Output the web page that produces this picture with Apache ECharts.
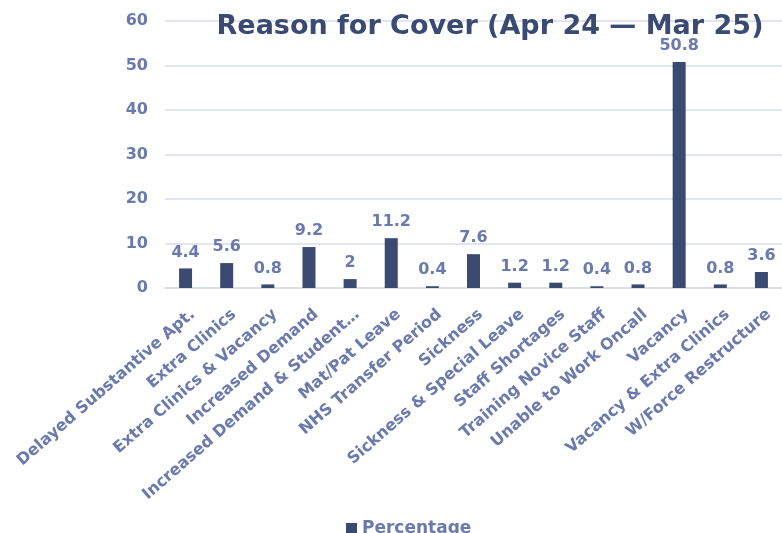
<!DOCTYPE html>
<html>
<head>
<meta charset="utf-8">
<script src="https://cdn.jsdelivr.net/npm/echarts@6/dist/echarts.min.js"></script>
<style>
  html, body { margin: 0; padding: 0; background: #fff; }
  #chart { width: 782px; height: 533px; }
</style>
</head>
<body>
<div id="chart"></div>
<script>
// Reasons for cover, percentage share
const categories = [
  'Delayed Substantive Apt.', 'Extra Clinics', 'Extra Clinics & Vacancy',
  'Increased Demand', 'Increased Demand & Student…', 'Mat/Pat Leave',
  'NHS Transfer Period', 'Sickness', 'Sickness & Special Leave',
  'Staff Shortages', 'Training Novice Staff', 'Unable to Work Oncall',
  'Vacancy', 'Vacancy & Extra Clinics', 'W/Force Restructure'
];
const percentage = [4.4, 5.6, 0.8, 9.2, 2, 11.2, 0.4, 7.6, 1.2, 1.2, 0.4, 0.8, 50.8, 0.8, 3.6];
const yTicks = { min: 0, max: 60, interval: 10 };

const labelColor = '#6a79ae';
const barColor = '#3b4a72';
const font = '"DejaVu Sans", "Liberation Sans", sans-serif';

const chart = echarts.init(document.getElementById('chart'));
chart.setOption({
  animation: false,
  title: {
    text: 'Reason for Cover (Apr 24 \u2014 Mar 25)',
    left: 485, top: 8, textAlign: 'center',
    textStyle: { fontFamily: font, fontSize: 27, fontWeight: 'bold', color: '#3a4a73' }
  },
  legend: {
    data: ['Percentage'],
    left: 341, top: 515,
    icon: 'rect', itemWidth: 11, itemHeight: 11, itemGap: 5,
    textStyle: { fontFamily: font, fontSize: 17, fontWeight: 'bold', color: labelColor }
  },
  grid: { left: 165, top: 21, width: 624, height: 267, containLabel: false },
  xAxis: {
    type: 'category',
    data: categories,
    axisTick: { show: false },
    axisLine: { lineStyle: { color: '#d9dcea', width: 1.5 } },
    axisLabel: {
      rotate: 41, interval: 0, margin: 16,
      verticalAlign: 'top', padding: [3, 0, 0, 0],
      fontFamily: font, fontSize: 16, fontWeight: 'bold', color: labelColor
    }
  },
  yAxis: {
    type: 'value',
    min: yTicks.min, max: yTicks.max, interval: yTicks.interval,
    axisLine: { show: false }, axisTick: { show: false },
    axisLabel: { margin: 17, fontFamily: font, fontSize: 16, fontWeight: 'bold', color: labelColor },
    splitLine: { lineStyle: { color: '#d9dcea', width: 1.5 } }
  },
  series: [{
    name: 'Percentage',
    type: 'bar',
    data: percentage,
    barWidth: 13,
    itemStyle: { color: barColor },
    label: {
      show: true, position: 'top', distance: 8,
      fontFamily: font, fontSize: 16, fontWeight: 'bold', color: labelColor
    }
  }]
});
</script>
</body>
</html>
